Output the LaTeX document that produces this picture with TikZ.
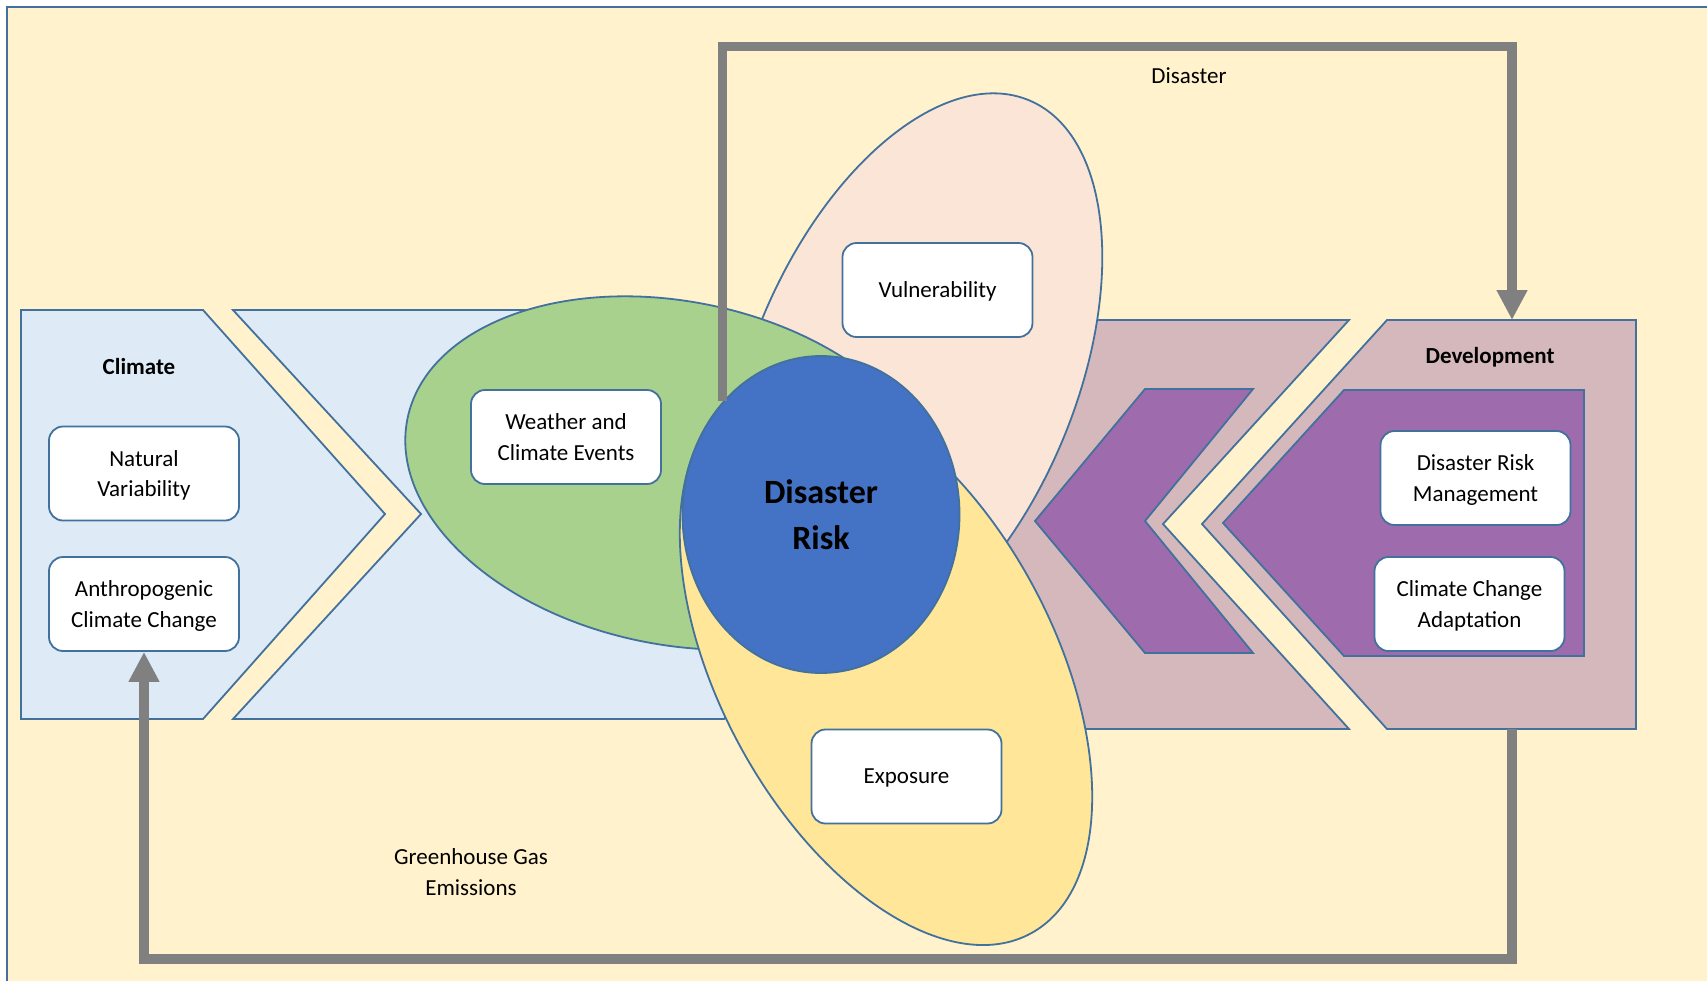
\documentclass[tikz,border=0pt]{standalone}
\usepackage{fontspec}
\setmainfont{Carlito}
\usepackage{tikz}
\usetikzlibrary{shapes.geometric, arrows.meta, positioning}
\definecolor{PaleGold}{RGB}{255,242,204}
\definecolor{EdgeBlue}{RGB}{65,113,156}
\definecolor{IceBlue}{RGB}{222,235,247}
\definecolor{Mauve}{RGB}{213,184,188}
\definecolor{Plum}{RGB}{158,107,173}
\definecolor{Peach}{RGB}{251,229,214}
\definecolor{LeafGreen}{RGB}{169,209,142}
\definecolor{Butter}{RGB}{255,230,153}
\definecolor{RiskBlue}{RGB}{68,114,196}
\definecolor{LoopGray}{RGB}{128,128,128}
\tikzset{
  outl/.style={draw=EdgeBlue, line width=0.9pt},
  climshape/.style={outl, fill=IceBlue},
  devshape/.style={outl, fill=Mauve},
  devinner/.style={outl, fill=Plum},
  petal/.style={ellipse, outl, inner sep=0pt},
  tbox/.style={draw=EdgeBlue, line width=0.9pt, fill=white, rounded corners=7pt,
    minimum width=95pt, minimum height=47pt, inner sep=1pt, align=center, text depth=0pt,
    font=\fontsize{11.5}{15.2}\selectfont},
  hdr/.style={font=\fontsize{11.5}{14}\selectfont\bfseries},
  plainlbl/.style={align=center, font=\fontsize{11.5}{15.2}\selectfont},
  cyclearrow/.style={-{Triangle[length=15pt, width=14.5pt]}, draw=LoopGray, line width=4.7pt},
}

\begin{document}
\begin{tikzpicture}[x=0.5pt, y=-0.5pt]
  \useasboundingbox (0,0) rectangle (1707,981);
  % backdrop
  \fill[PaleGold] (7,7) rectangle (1707,981);
  \draw[EdgeBlue, line width=1.15pt] (7,981) -- (7,7) -- (1707,7);
  % climate side
  \draw[climshape] (21,310) -- (203,310) -- (385,514) -- (203,719) -- (21,719) -- cycle;
  \draw[climshape] (233,310) -- (724,310) -- (912,514) -- (724,719) -- (233,719) -- (421,514) -- cycle;
  % development side
  \draw[devshape] (1083,320) -- (1349,320) -- (1163,524) -- (1349,729) -- (1083,729) -- (897,524) -- cycle;
  \draw[devshape] (1387,320) -- (1636,320) -- (1636,729) -- (1387,729) -- (1202,524) -- cycle;
  \draw[devinner] (1145,389) -- (1253,389) -- (1145,521) -- (1253,653) -- (1145,653) -- (1035,521) -- cycle;
  \draw[devinner] (1344,390) -- (1584,390) -- (1584,656) -- (1344,656) -- (1223,523) -- cycle;
  \coordinate (devtop) at (1512,320);
  \coordinate (devbot) at (1512,729);
  % petals and core
  \node[petal, fill=Peach, minimum width=301pt, minimum height=162pt, rotate=67.3] (vulnpetal) at (913,378) {};
  \node[petal, fill=LeafGreen, minimum width=273pt, minimum height=171.5pt, rotate=-11.5] (hazpetal) at (675,473) {};
  \node[petal, fill=Butter, minimum width=305pt, minimum height=167pt, rotate=-61.7] (expopetal) at (886,665) {};
  \node[petal, fill=RiskBlue, minimum width=138.5pt, minimum height=158.5pt, align=center,
    font=\fontsize{17}{23}\selectfont\bfseries] (risk) at (821,514.5) {Disaster\\Risk};
  % boxes
  \node[tbox] (natvar) at (144,473.5) {Natural\\Variability};
  \node[tbox] (anthro) at (144,604) {Anthropogenic\\Climate Change};
  \node[tbox] (wce) at (566,437) {Weather and\\Climate Events};
  \node[tbox] (vuln) at (937.5,290) {Vulnerability};
  \node[tbox] (expo) at (906.5,776.5) {Exposure};
  \node[tbox] (drm) at (1475.5,478) {Disaster Risk\\Management};
  \node[tbox] (cca) at (1469.5,604) {Climate Change\\Adaptation};
  % labels
  \node[hdr] (climlbl) at (139,367) {Climate};
  \node[hdr] (devlbl) at (1490,357) {Development};
  \node[plainlbl] (dislbl) at (1189,76) {Disaster};
  \node[plainlbl] (ghglbl) at (471,872) {Greenhouse Gas\\Emissions};
  % feedback loops
  \draw[cyclearrow] (risk.131) -- ++(0,-355) -| (devtop);
  \draw[cyclearrow] (devbot) -- ++(0,230) -| (anthro.south);
\end{tikzpicture}
\end{document}
